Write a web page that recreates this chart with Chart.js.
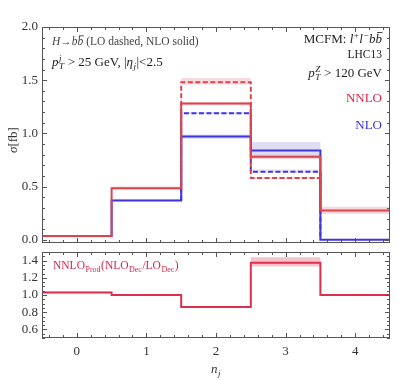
<!DOCTYPE html>
<html>
<head>
<meta charset="utf-8">
<script src="https://cdn.jsdelivr.net/npm/chart.js@4"></script>
<style>
  body { margin: 0; background: #fff; }
  #wrap { position: relative; width: 399px; height: 380px; }
  .box { position: absolute; left: 0; width: 399px; }
</style>
</head>
<body>
<div id="wrap">
  <div class="box" style="top:0;height:250px"><canvas id="topChart"></canvas></div>
  <div class="box" style="top:250px;height:130px"><canvas id="botChart"></canvas></div>
</div>
<script>
// bins of n_j
const binEdges = [-0.5, 0.5, 1.5, 2.5, 3.5, 4.5];
const xTicks = [0, 1, 2, 3, 4];

// upper panel: sigma [fb]
const nnlo   = [0.035, 0.485, 1.28, 0.78, 0.275];
const nnloLo = [0.025, 0.47, 1.265, 0.76, 0.245];
const nnloHi = [0.045, 0.50, 1.295, 0.80, 0.31];
const nlo    = [0.035, 0.37, 0.97, 0.84, 0.0];
const nloLo  = [0.025, 0.36, 0.95, 0.79, 0.0];
const nloHi  = [0.045, 0.38, 0.99, 0.92, 0.005];
// LO-decay (dashed)
const nnloLOdec   = [null, null, 1.48, 0.58, null];
const nnloLOdecLo = [null, null, 1.46, 0.57, null];
const nnloLOdecHi = [null, null, 1.52, 0.59, null];
const nloLOdec    = [null, null, 1.19, 0.64, null];
const nloLOdecLo  = [null, null, 1.18, 0.63, null];
const nloLOdecHi  = [null, null, 1.20, 0.66, null];
const yTicksTop = [0.0, 0.5, 1.0, 1.5, 2.0];

// lower panel: ratio
const ratio   = [1.03, 1.0, 0.86, 1.375, 1.0];
const ratioLo = [1.02, 0.99, 0.85, 1.33, 0.99];
const ratioHi = [1.04, 1.01, 0.87, 1.44, 1.01];
const yTicksBot = [0.6, 0.8, 1.0, 1.2, 1.4];

const RED = '#d9464f';
const BLUE = '#3f36dc';
const SERIF = '"Liberation Serif", "DejaVu Serif", serif';

// turn per-bin values into step-line points; runs of values start/end on
// the neighbouring bin of `base` (so the vertical edges join the solid curve)
function steps(vals, base) {
  const pts = [];
  vals.forEach((v, i) => {
    if (v == null) return;
    if (base && i > 0 && vals[i - 1] == null) pts.push({x: binEdges[i], y: base[i - 1]});
    pts.push({x: binEdges[i], y: v}, {x: binEdges[i + 1], y: v});
    if (base && i < vals.length - 1 && vals[i + 1] == null) pts.push({x: binEdges[i + 1], y: base[i + 1]});
  });
  return pts;
}

function lineDs(vals, color, dash, base) {
  return {data: steps(vals, base), borderColor: color, borderWidth: 2, borderDash: dash || [],
          pointRadius: 0, fill: false, tension: 0};
}
function bandDs(lo, hi, color) {
  return [
    {data: steps(hi), borderWidth: 0, pointRadius: 0, backgroundColor: color, fill: '+1'},
    {data: steps(lo), borderWidth: 0, pointRadius: 0, fill: false}
  ];
}

// draw a run of text pieces with italics / sub / sup / overbar
function rich(ctx, x, y, parts, size, align, color) {
  const small = Math.round(size * 0.68);
  const f = (it, s) => (it ? 'italic ' : '') + s + 'px ' + SERIF;
  const widthOf = p => {
    ctx.font = f(p.i, size);
    let w = ctx.measureText(p.t).width;
    let ws = 0;
    if (p.sub) { ctx.font = f(p.subI, small); ws = Math.max(ws, ctx.measureText(p.sub).width); }
    if (p.sup) { ctx.font = f(p.supI, small); ws = Math.max(ws, ctx.measureText(p.sup).width); }
    return w + ws + (ws ? 1 : 0);
  };
  const total = parts.reduce((a, p) => a + widthOf(p), 0);
  let cx = align === 'right' ? x - total : align === 'center' ? x - total / 2 : x;
  ctx.save();
  ctx.fillStyle = color;
  ctx.strokeStyle = color;
  ctx.textAlign = 'left';
  ctx.textBaseline = 'alphabetic';
  parts.forEach(p => {
    ctx.font = f(p.i, size);
    ctx.fillText(p.t, cx, y);
    const w = ctx.measureText(p.t).width;
    if (p.over) {
      ctx.lineWidth = 0.9;
      ctx.beginPath();
      ctx.moveTo(cx + 1.5, y - size * 0.8);
      ctx.lineTo(cx + w + 0.5, y - size * 0.8);
      ctx.stroke();
    }
    cx += w;
    let ws = 0;
    if (p.sup) {
      ctx.font = f(p.supI, small);
      ctx.fillText(p.sup, cx + 0.5, y - size * 0.4);
      ws = Math.max(ws, ctx.measureText(p.sup).width);
    }
    if (p.sub) {
      ctx.font = f(p.subI, small);
      ctx.fillText(p.sub, cx + 0.5, y + size * 0.25);
      ws = Math.max(ws, ctx.measureText(p.sub).width);
    }
    cx += ws + (ws ? 1 : 0);
  });
  ctx.restore();
}

// frame with inward ticks on all sides
function framePlugin(yMinor) {
  return {
    id: 'frame',
    afterDraw(chart) {
      const {ctx, chartArea: a, scales: {x, y}} = chart;
      ctx.save();
      ctx.strokeStyle = '#555';
      ctx.lineWidth = 1;
      ctx.strokeRect(a.left + 0.5, a.top + 0.5, a.right - a.left - 1, a.bottom - a.top - 1);
      ctx.beginPath();
      for (let v = Math.ceil(x.min * 5) / 5; v <= x.max + 1e-9; v += 0.2) {
        const px = Math.round(x.getPixelForValue(v)) + 0.5;
        const len = Math.abs(v - Math.round(v)) < 1e-6 ? 5 : 3;
        ctx.moveTo(px, a.bottom); ctx.lineTo(px, a.bottom - len);
        ctx.moveTo(px, a.top); ctx.lineTo(px, a.top + len);
      }
      const n0 = Math.ceil(y.min / yMinor - 1e-6), n1 = Math.floor(y.max / yMinor + 1e-6);
      for (let k = n0; k <= n1; k++) {
        const v = k * yMinor;
        const py = Math.round(y.getPixelForValue(v)) + 0.5;
        const major = y.ticks.some(t => Math.abs(t.value - v) < 1e-6);
        const len = major ? 5 : 3;
        ctx.moveTo(a.left, py); ctx.lineTo(a.left + len, py);
        ctx.moveTo(a.right, py); ctx.lineTo(a.right - len, py);
      }
      ctx.stroke();
      ctx.restore();
    }
  };
}

const textTop = {
  id: 'textTop',
  afterDraw(chart) {
    const ctx = chart.ctx;
    rich(ctx, 52, 45, [{t: 'H', i: true}, {t: '\u2192'}, {t: 'b', i: true}, {t: 'b', i: true, over: true},
      {t: ' (LO dashed, NLO solid)'}], 11.5, 'left', '#444');
    rich(ctx, 52, 66, [{t: 'p', i: true, sub: 'T', subI: true, sup: 'j', supI: true},
      {t: ' > 25 GeV, |'}, {t: '\u03b7', i: true, sub: 'j', subI: true}, {t: '|<2.5'}], 13, 'left', '#222');
    rich(ctx, 382, 43, [{t: 'MCFM: '}, {t: 'l', i: true, sup: '+'}, {t: 'l', i: true, sup: '\u2212'},
      {t: 'b', i: true}, {t: 'b', i: true, over: true}], 13, 'right', '#222');
    rich(ctx, 382, 58, [{t: 'LHC13'}], 11.5, 'right', '#222');
    rich(ctx, 382, 77, [{t: 'p', i: true, sub: 'T', subI: true, sup: 'Z', supI: true}, {t: ' > 120 GeV'}], 13, 'right', '#222');
    rich(ctx, 382, 102, [{t: 'NNLO'}], 13, 'right', '#dc2446');
    rich(ctx, 382, 129, [{t: 'NLO'}], 13, 'right', '#3a32dc');
    ctx.save();
    ctx.translate(17, 140);
    ctx.rotate(-Math.PI / 2);
    rich(ctx, 0, 0, [{t: '\u03c3', i: true}, {t: '[fb]'}], 13, 'center', '#333');
    ctx.restore();
  }
};

const textBot = {
  id: 'textBot',
  afterDraw(chart) {
    const ctx = chart.ctx;
    rich(ctx, 53, 19, [{t: 'NNLO', sub: 'Prod'}, {t: '(NLO', sub: 'Dec'}, {t: '/LO', sub: 'Dec'}, {t: ')'}],
      11.5, 'left', '#dc2446');
    rich(ctx, 216, 123, [{t: 'n', i: true, sub: 'j', subI: true}], 13, 'center', '#333');
  }
};

const tickFont = {family: SERIF, size: 13};

function yScale(min, max, ticks) {
  return {
    type: 'linear', min, max,
    afterBuildTicks: s => { s.ticks = ticks.map(v => ({value: v})); },
    afterFit: s => { s.width = 42; s.paddingTop = 0; s.paddingBottom = 0; },
    grid: {display: false, drawTicks: false},
    border: {display: false},
    ticks: {font: tickFont, color: '#333', padding: 4, callback: v => v.toFixed(1)}
  };
}

new Chart(document.getElementById('topChart'), {
  type: 'line',
  data: {
    datasets: [
      lineDs(nnlo, RED),
      lineDs(nlo, BLUE),
      lineDs(nnloLOdec, RED, [5, 2.5], nnlo),
      lineDs(nloLOdec, BLUE, [5, 2.5], nlo),
      ...bandDs(nnloLo, nnloHi, 'rgba(220,70,95,0.22)'),
      ...bandDs(nloLo, nloHi, 'rgba(110,100,215,0.22)'),
      ...bandDs(nnloLOdecLo, nnloLOdecHi, 'rgba(220,70,95,0.2)'),
      ...bandDs(nloLOdecLo, nloLOdecHi, 'rgba(110,100,215,0.18)')
    ]
  },
  options: {
    responsive: true, maintainAspectRatio: false, animation: false,
    layout: {padding: {top: 27, right: 9, bottom: 7, left: 0}},
    plugins: {legend: {display: false}, tooltip: {enabled: false}, filler: {propagate: false}},
    scales: {
      x: {type: 'linear', min: -0.5, max: 4.5, display: false},
      y: yScale(-0.03, 2.0, yTicksTop)
    }
  },
  plugins: [framePlugin(0.1), textTop]
});

new Chart(document.getElementById('botChart'), {
  type: 'line',
  data: {
    datasets: [
      lineDs(ratio, '#dc2f4f'),
      ...bandDs(ratioLo, ratioHi, 'rgba(220,60,90,0.3)')
    ]
  },
  options: {
    responsive: true, maintainAspectRatio: false, animation: false,
    layout: {padding: {top: 2, right: 9, bottom: 0, left: 0}},
    plugins: {legend: {display: false}, tooltip: {enabled: false}, filler: {propagate: false}},
    scales: {
      x: {
        type: 'linear', min: -0.5, max: 4.5,
        afterBuildTicks: s => { s.ticks = xTicks.map(v => ({value: v})); },
        afterFit: s => { s.height = 42; s.paddingLeft = 0; s.paddingRight = 0; },
        grid: {display: false, drawTicks: false},
        border: {display: false},
        ticks: {font: tickFont, color: '#333', padding: 6, maxRotation: 0}
      },
      y: yScale(0.5, 1.5, yTicksBot)
    }
  },
  plugins: [framePlugin(0.05), textBot]
});
</script>
</body>
</html>
